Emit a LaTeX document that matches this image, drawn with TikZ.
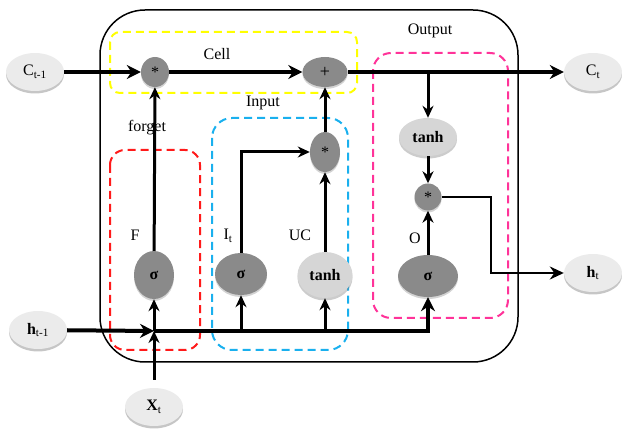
\documentclass[tikz,border=0pt]{standalone}
\usepackage{fontspec}
\setmainfont{Liberation Serif}
\usetikzlibrary{arrows.meta, positioning, shapes.geometric, shadows}
\definecolor{GateDark}{HTML}{8A8A8A}
\definecolor{GateLight}{HTML}{EBEBEB}
\definecolor{TanhLight}{HTML}{D6D6D6}
\definecolor{CellYellow}{HTML}{FFFF00}
\definecolor{ForgetRed}{HTML}{FF1A1A}
\definecolor{InputBlue}{HTML}{1AB0EE}
\definecolor{OutputPink}{HTML}{FF3399}

\begin{document}
\begin{tikzpicture}[x=1pt, y=-1pt, font=\fontsize{16}{18}\selectfont,
    io/.style={ellipse, fill=GateLight, minimum width=58pt, minimum height=38pt, inner sep=0pt,
        drop shadow={shadow xshift=0pt, shadow yshift=-2.5pt, opacity=0.45}},
    dark/.style={ellipse, fill=GateDark, inner sep=0pt,
        drop shadow={shadow xshift=0pt, shadow yshift=-2pt, opacity=0.35}},
    light/.style={ellipse, fill=TanhLight, inner sep=0pt,
        drop shadow={shadow xshift=0pt, shadow yshift=-2.5pt, opacity=0.4}},
    group/.style={dash pattern=on 8pt off 5pt, line width=2pt},
    bus/.style={-{Stealth[length=14pt, width=14pt]}, line width=4pt},
    flow/.style={-{Stealth[length=12pt, width=11pt]}, line width=3pt},
    link/.style={-{Stealth[length=14pt, width=13pt]}, line width=2pt}]
    \useasboundingbox (0,0) rectangle (622,430);

    % Boxes
    \draw[line width=1.5pt, rounded corners=45pt] (100,10) rectangle (518,362);
    \draw[group, CellYellow, rounded corners=10pt] (110,32) rectangle (357,93);
    \draw[group, ForgetRed, rounded corners=15pt] (110,150) rectangle (200,350);
    \draw[group, InputBlue, rounded corners=20pt] (212,118) rectangle (348,350);
    \draw[group, OutputPink, rounded corners=18pt] (373,53) rectangle (508,318);

    % Nodes
    \node[io] (cprev) at (35,72) {C\textsubscript{t-1}};
    \node[io] (cnext) at (593,72) {C\textsubscript{t}};
    \node[io] (hprev) at (38,330) {\textbf{h}\textsubscript{t-1}};
    \node[io] (xt) at (154,407) {\textbf{X}\textsubscript{t}};
    \node[io] (ht) at (593,273) {\textbf{h}\textsubscript{t}};

    \node[dark, minimum width=28pt, minimum height=30pt] (fmul) at (155,72) {*};
    \node[dark, minimum width=45pt, minimum height=30pt, font=\fontsize{18}{20}\selectfont] (add) at (325,72) {+};
    \node[dark, minimum width=30pt, minimum height=40pt] (imul) at (325,152) {*};
    \node[light, minimum width=58pt, minimum height=38pt] (otanh) at (428,137) {\textbf{tanh}};
    \node[dark, minimum width=27pt, minimum height=27pt] (omul) at (428,197) {*};

    \node[dark, minimum width=40pt, minimum height=48pt] (fsig) at (154,275) {\textbf{σ}};
    \node[dark, minimum width=52pt, minimum height=42pt] (isig) at (241,274) {\textbf{σ}};
    \node[light, minimum width=55pt, minimum height=46pt] (uctanh) at (325,275) {\textbf{tanh}};
    \node[dark, minimum width=60pt, minimum height=42pt] (osig) at (428,276) {\textbf{σ}};

    % Labels
    \node (celllbl) at (217,54) {Cell};
    \node (inputlbl) at (263,103) {Input};
    \node (forgetlbl) at (147,128) {forget};
    \node (outputlbl) at (430,31) {Output};
    \node (flbl) at (135,235) {F};
    \node (ilbl) at (228,236) {I\textsubscript{t}};
    \node (uclbl) at (300,235) {UC};
    \node (olbl) at (415,238) {O};

    % Cell line
    \draw[bus] (cprev) -- (fmul);
    \draw[bus] (fmul) -- (add);
    \draw[bus] (add) -- (cnext);

    % Output part
    \draw[flow] (otanh |- add) -- (otanh);
    \draw[flow] (otanh) -- (omul);
    \draw[flow] (osig) -- (omul);
    \coordinate (hturn) at (491,197);
    \draw[link] (omul) -- (hturn) |- (ht);

    % Gates
    \draw[flow] (fsig) -- (fmul);
    \draw[flow] (isig) |- (imul);
    \draw[flow] (uctanh) -- (imul);
    \draw[flow] (imul) -- (add);

    % h and x inputs
    \coordinate (hjoin) at (154,331);
    \draw[bus] (hprev) -- (hjoin);
    \draw[bus] (hjoin) -| (osig);
    \draw[flow] (hjoin) -- (fsig);
    \draw[flow] (isig |- hjoin) -- (isig);
    \draw[flow] (uctanh |- hjoin) -- (uctanh);
    \draw[flow, shorten <=8pt] (xt) -- (hjoin);
\end{tikzpicture}
\end{document}
